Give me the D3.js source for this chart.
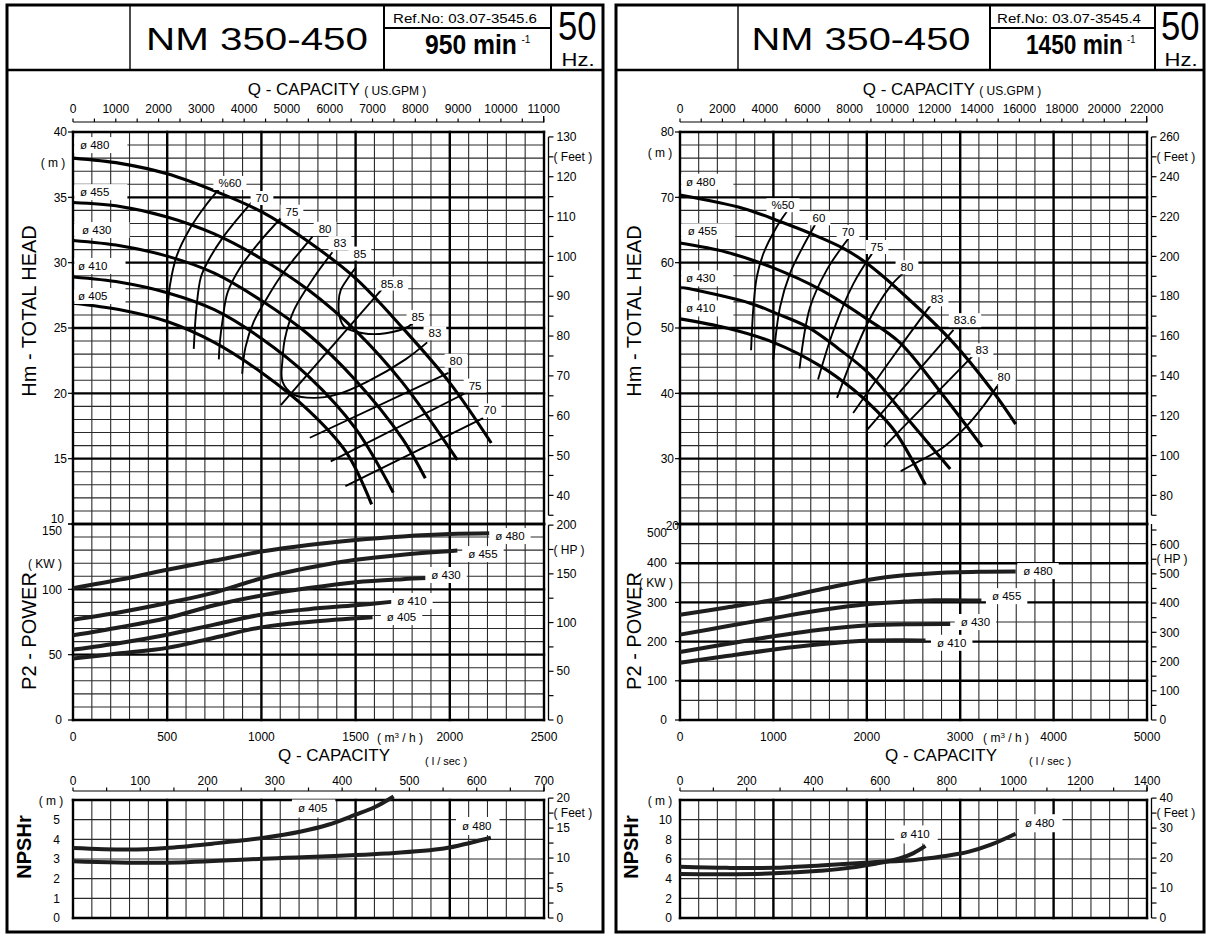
<!DOCTYPE html>
<html>
<head>
<meta charset="utf-8">
<script src="https://cdn.jsdelivr.net/npm/d3@7/dist/d3.min.js"></script>
<style>
html,body{margin:0;padding:0;background:#fff;}
svg{display:block;}
text{font-family:"Liberation Sans",Arial,Helvetica,sans-serif;fill:#000;}
</style>
</head>
<body>
<svg id="chart" width="1208" height="938"></svg>
<script>
// ================= LEFT SHEET : NM 350-450, 950 min-1 =================
const L_HEADER = ["NM 350-450", "Ref.No: 03.07-3545.6", "950 min", "-1", "50", "Hz."];
const L_GPM_TICKS = [0,1000,2000,3000,4000,5000,6000,7000,8000,9000,10000,11000];
const L_LS_TICKS = [0,100,200,300,400,500,600,700];
const L_Q_TICKS = [0,500,1000,1500,2000,2500];
const L_H_TICKS = [40,35,30,25,20,15,10];
const L_P_TICKS = [150,100,50,0];
const L_N_TICKS = [0,1,2,3,4,5];
const L_FT_TICKS = [130,120,110,100,90,80,70,60,50,40];
const L_HP_TICKS = [200,150,100,50,0];
const L_NFT_TICKS = [20,15,10,5,0];

const L_DIAMETERS = ["ø 480","ø 455","ø 430","ø 410","ø 405"];
const L_HEAD_480 = [[0,38.0],[250,37.6],[500,36.8],[750,35.5],[1000,33.9],[1250,31.6],[1500,28.8],[1750,25.0],[2000,20.8],[2220,16.2]];
const L_HEAD_455 = [[0,34.6],[250,34.3],[500,33.5],[750,32.2],[1000,30.3],[1250,27.9],[1500,24.8],[1750,20.8],[2040,14.9]];
const L_HEAD_430 = [[0,31.7],[250,31.3],[500,30.5],[750,29.2],[1000,27.1],[1250,24.5],[1500,21.0],[1750,16.5],[1870,13.5]];
const L_HEAD_410 = [[0,28.9],[250,28.5],[500,27.7],[750,26.4],[1000,24.2],[1250,21.3],[1500,17.3],[1700,12.4]];
const L_HEAD_405 = [[0,26.9],[250,26.4],[500,25.5],[750,23.9],[1000,21.6],[1250,18.7],[1450,15.5],[1585,11.5]];
const L_HEAD_LABEL_AT = [[37,39.0],[37,35.4],[48,32.5],[27,29.75],[27,27.45]];

const L_POW_480 = [[0,100.9],[250,107.5],[500,115],[750,122],[1000,128.9],[1250,134],[1500,137.8],[1750,140.5],[2000,142.3],[2220,142.9]];
const L_POW_455 = [[0,76.8],[250,82.5],[500,89.5],[750,97.5],[1000,108.4],[1250,116.5],[1500,122.6],[1750,126.5],[2040,129.7]];
const L_POW_430 = [[0,64.8],[250,71],[500,78.1],[750,87.8],[1000,95.3],[1250,101],[1500,105.5],[1750,107.8],[1880,108.6]];
const L_POW_410 = [[0,53.9],[250,59],[500,65.3],[750,73],[1000,80.6],[1250,84.8],[1500,87.8],[1700,90.6]];
const L_POW_405 = [[0,47.0],[250,51],[500,55.2],[750,63],[1000,70.9],[1250,75],[1590,78.6]];
const L_POWER_LABEL_AT = [[2319,140.8],[2176,127],[1980,111],[1799,91.1],[1744,78.8]];

const L_NPSH_DIAMETERS = ["ø 405","ø 480"];
const L_NPSH_405 = [[0,3.56],[290,3.48],[495,3.56],[740,3.78],[1006,4.07],[1211,4.4],[1354,4.74],[1497,5.24],[1600,5.63],[1702,6.18]];
const L_NPSH_480 = [[0,2.89],[495,2.81],[1047,3.03],[1661,3.28],[1968,3.53],[2111,3.83],[2218,4.08]];
const L_NPSH_LABEL_AT = [[1272,5.57],[2143,4.68]];

const L_EFF_LABELS = ["%60","70","75","80","83","85","85.8","85","83","80","75","70"];
const L_EFF_LABEL_AT = [[833,36.1],[1003,34.95],[1162,33.9],[1338,32.6],[1417,31.5],[1523,30.7],[1693,28.4],[1831,25.85],[1921,24.6],[2033,22.5],[2134,20.6],[2213,18.7]];
const L_EFF_60 = [[785,35.8],[700,34.3],[620,32.6],[550,30.5],[515,28.3],[502,26.5],[498,24.7]];
const L_EFF_70 = [[953,34.7],[870,33.3],[794,31.9],[720,30.2],[679,28.9],[655,26.5],[641,23.4]];
const L_EFF_75 = [[1103,33.4],[997,31.7],[891,29.7],[820,27.7],[794,25.6],[780,24.0],[774,22.6]];
const L_EFF_80 = [[1271,32.0],[1180,30.4],[1100,28.9],[1030,27.3],[960,25.5],[915,23.5],[898,21.5]];
const L_EFF_83 = [[1377,30.8],[1280,28.9],[1174,26.4],[1125,24.2],[1112,22.6],[1112,20.9],[1172,19.9],[1276,19.65],[1398,19.9],[1563,20.9],[1765,22.6],[1880,23.9]];
const L_EFF_85 = [[1500,29.6],[1464,28.9],[1421,27.9],[1410,27.0],[1416,25.8],[1440,25.1],[1540,24.6],[1660,24.6],[1780,25.1],[1820,25.6]];
const L_EFF_858 = [[1660,28.3],[1103,19.1]];
const L_EFF_80R = [[1257,16.6],[1993,21.56]];
const L_EFF_75R = [[1368,14.8],[2095,20.1]];
const L_EFF_70R = [[1446,12.9],[2177,18.1]];

// ================= RIGHT SHEET : NM 350-450, 1450 min-1 =================
const R_HEADER = ["NM 350-450", "Ref.No: 03.07-3545.4", "1450 min", "-1", "50", "Hz."];
const R_GPM_TICKS = [0,2000,4000,6000,8000,10000,12000,14000,16000,18000,20000,22000];
const R_LS_TICKS = [0,200,400,600,800,1000,1200,1400];
const R_Q_TICKS = [0,1000,2000,3000,4000,5000];
const R_H_TICKS = [80,70,60,50,40,30,20];
const R_P_TICKS = [500,400,300,200,100,0];
const R_N_TICKS = [0,2,4,6,8,10];
const R_FT_TICKS = [260,240,220,200,180,160,140,120,100,80];
const R_HP_TICKS = [600,500,400,300,200,100,0];
const R_NFT_TICKS = [40,30,20,10,0];

const R_DIAMETERS = ["ø 480","ø 455","ø 430","ø 410"];
const R_HEAD_480 = [[0,70.35],[678,68.3],[1071,66.3],[1393,64.5],[1750,62.2],[2000,59.9],[2450,54.4],[2922,47.8],[3329,40.7],[3594,35.3]];
const R_HEAD_455 = [[0,63.0],[500,61.6],[1000,59.2],[1500,55.9],[2000,51.4],[2351,47.8],[2800,40.0],[3236,31.8]];
const R_HEAD_430 = [[0,56.3],[750,53.8],[1036,52.2],[1373,50.1],[1700,46.8],[2025,43.0],[2473,35.5],[2893,28.4]];
const R_HEAD_410 = [[0,51.4],[500,50.0],[1000,47.8],[1500,44.2],[1862,40.5],[2100,37.4],[2300,34.2],[2628,26.0]];
const R_HEAD_LABEL_AT = [[64,72.4],[82,64.8],[64,57.6],[64,53.0]];

const R_POW_480 = [[0,268.6],[500,287],[1006,306.8],[1500,333],[2025,357.6],[2400,369],[2718,374.6],[3200,378],[3594,378.8]];
const R_POW_455 = [[0,217.8],[500,239],[1006,260.2],[1500,280],[2025,295.8],[2400,302],[2718,305.5],[3227,305]];
const R_POW_430 = [[0,173.7],[500,194],[1006,213.6],[1500,230],[2025,241.5],[2500,244.5],[2893,244.9]];
const R_POW_410 = [[0,145.8],[500,163],[1006,179.7],[1500,193],[2025,202.5],[2400,203.5],[2628,202.5]];
const R_POWER_LABEL_AT = [[3833,380],[3497,316],[3163,250],[2909,197]];

const R_NPSH_DIAMETERS = ["ø 410","ø 480"];
const R_NPSH_410 = [[0,4.47],[500,4.45],[1006,4.54],[1500,4.8],[1699,4.97],[2107,5.55],[2351,6.05],[2500,6.6],[2628,7.33]];
const R_NPSH_480 = [[0,5.21],[500,5.1],[1006,5.1],[1500,5.35],[2025,5.65],[2514,5.9],[2800,6.25],[3084,6.72],[3329,7.46],[3594,8.57]];
const R_NPSH_LABEL_AT = [[2516,8.5],[3852,9.64]];

const R_EFF_LABELS = ["%50","60","70","75","80","83","83.6","83","80"];
const R_EFF_LABEL_AT = [[1103,68.8],[1488,66.8],[1799,64.7],[2109,62.4],[2430,59.3],[2752,54.4],[3051,51.2],[3233,46.6],[3469,42.5]];
const R_EFF_50 = [[1143,67.8],[1036,65.5],[893,61.4],[822,57.8],[786,53.2],[761,46.6]];
const R_EFF_60 = [[1446,65.8],[1300,62.0],[1179,58.4],[1071,53.2],[999,45.2]];
const R_EFF_70 = [[1803,63.7],[1572,58.9],[1393,53.2],[1280,43.8]];
const R_EFF_75 = [[2071,61.7],[1857,56.8],[1640,49.5],[1478,42.1]];
const R_EFF_80 = [[2389,58.4],[2248,56.3],[2000,50.5],[1681,39.3]];
const R_EFF_83 = [[2700,53.8],[2280,45.6],[1854,37.0]];
const R_EFF_836 = [[2008,34.5],[2928,49.7]];
const R_EFF_83R = [[2184,31.8],[3132,45.7]];
const R_EFF_80R = [[2364,28.1],[2518,29.3],[2805,31.6],[3050,34.7],[3255,38.2],[3397,41.1]];

// ================= DRAWING =================
const svg = d3.select("#chart");
const FT = 3.28084, KW_HP = 1/0.7457, M3H_GPM = 4.40287;
const Y = {gpm:122, hTop:132, hBot:524, pBot:720, ls:791, nTop:800, nBot:918};

function mk(parent, tag, attrs){ const e = parent.append(tag); for (const k in attrs) e.attr(k, attrs[k]); return e; }
const isMul = (v,m) => Math.abs(v/m - Math.round(v/m)) < 1e-6;

function boxLabel(parent, px, py, txt, o){
  o = o || {};
  const lg = parent.append("g");
  const r = lg.append("rect").attr("fill","#fff");
  const t = mk(lg,"text",{x:px,y:py,"font-size":o.fs||11,"text-anchor":o.anchor||"middle",dy:"0.35em"}).text(txt);
  const b = t.node().getBBox();
  const padL = o.padL!=null?o.padL:4, padR = o.padR!=null?o.padR:4, padV = o.padV!=null?o.padV:1;
  const bx = o.boxX0!=null ? o.boxX0 : b.x - padL;
  r.attr("x",bx).attr("y",b.y-padV).attr("width",b.x+b.width+padR-bx).attr("height",b.height+2*padV);
}

function drawSheet(S){
  const g = svg.append("g");
  // ---- frame and header ----
  mk(g,"rect",{x:S.bx0,y:5,width:S.bx1-S.bx0,height:927,fill:"none",stroke:"#000","stroke-width":3});
  mk(g,"line",{x1:S.bx0,x2:S.bx1,y1:70,y2:70,stroke:"#000","stroke-width":2.6});
  S.div.forEach((d,i)=>mk(g,"line",{x1:d,x2:d,y1:5,y2:70,stroke:"#000","stroke-width":i===0?1.4:2}));
  mk(g,"line",{x1:S.div[1],x2:S.div[2],y1:28,y2:28,stroke:"#000","stroke-width":2});
  const H = S.header;
  mk(g,"text",{x:S.titleX,y:49.5,"font-family":"'DejaVu Sans',sans-serif","font-size":31,"font-weight":200,
     "text-anchor":"middle",textLength:S.titleW,lengthAdjust:"spacingAndGlyphs"}).text(H[0]);
  mk(g,"text",{x:S.refX,y:22.5,"font-size":12.5,textLength:144,lengthAdjust:"spacingAndGlyphs"}).text(H[1]);
  // speed with superscript in one condensed text element
  const sp = mk(g,"text",{x:0,y:0,"font-size":27,"font-weight":"bold"});
  const spMain = sp.append("tspan").text(H[2]);
  sp.append("tspan").attr("font-size",11).attr("font-weight","normal").attr("dx",5).attr("dy",-11).text(H[3]);
  const natural = spMain.node().getComputedTextLength();
  sp.attr("transform",`translate(${S.spdX},54.3) scale(${S.spdW/natural},1)`);
  mk(g,"text",{x:S.hzX,y:39.5,"font-size":40,textLength:38.5,lengthAdjust:"spacingAndGlyphs"}).text(H[4]);
  mk(g,"text",{x:S.hzX+3.5,y:65.8,"font-size":19,textLength:33,lengthAdjust:"spacingAndGlyphs"}).text(H[5]);

  // ---- scales ----
  const x   = d3.scaleLinear().domain([0,S.qMax]).range([S.x0,S.x1]);
  const yH  = d3.scaleLinear().domain([S.hMin,S.hMax]).range([Y.hBot,Y.hTop]);
  const yP  = d3.scaleLinear().domain([0,S.pMax]).range([Y.pBot,Y.hBot]);
  const yN  = d3.scaleLinear().domain([0,S.nMax]).range([Y.nBot,Y.nTop]);
  const xG  = d3.scaleLinear().domain([0,S.qMax*M3H_GPM]).range([S.x0,S.x1]);
  const xL  = d3.scaleLinear().domain([0,S.lsMax]).range([S.x0,S.x1]);
  const yHf = d3.scaleLinear().domain([S.hMin*FT,S.hMax*FT]).range([Y.hBot,Y.hTop]);
  const yPh = d3.scaleLinear().domain([0,S.pMax*KW_HP]).range([Y.pBot,Y.hBot]);
  const yNf = d3.scaleLinear().domain([0,S.nMax*FT]).range([Y.nBot,Y.nTop]);

  // ---- grids ----
  const gridG = g.append("g");
  const MIN_W = 1.1, MIN_C = "#2a2a2a", MAJ_W = 2.4, MAJ_C = "#000";
  function panelGrid(ys, vStep, vMajor, qStep, qMajor){
    const [yb,yt] = ys.range(); const [d0,d1] = ys.domain();
    const vs = d3.range(d0, d1+1e-6, vStep), qs = d3.range(0, S.qMax+1e-6, qStep);
    qs.filter(q=>!isMul(q,qMajor)).forEach(q=>mk(gridG,"line",{x1:x(q),x2:x(q),y1:yt,y2:yb,stroke:MIN_C,"stroke-width":MIN_W}));
    vs.filter(v=>!vMajor(v)).forEach(v=>mk(gridG,"line",{x1:S.x0,x2:S.x1,y1:ys(v),y2:ys(v),stroke:MIN_C,"stroke-width":MIN_W}));
    qs.filter(q=>isMul(q,qMajor)).forEach(q=>mk(gridG,"line",{x1:x(q),x2:x(q),y1:yt-1.2,y2:yb+1.2,stroke:MAJ_C,"stroke-width":MAJ_W}));
    vs.filter(v=>vMajor(v)).forEach(v=>mk(gridG,"line",{x1:S.x0-1.2,x2:S.x1+1.2,y1:ys(v),y2:ys(v),stroke:MAJ_C,"stroke-width":MAJ_W}));
  }
  panelGrid(yH, S.hStep, v=>isMul(v,S.hMajor), S.qStep, S.qMajor);
  panelGrid(yP, S.pStep, v=>isMul(v,S.pMajor), S.qStep, S.qMajor);
  panelGrid(yN, S.nStep, v=>v===0||Math.abs(v-S.nMax)<1e-6, S.qStep, S.qMajor);

  // ---- curves ----
  const cg = g.append("g").attr("fill","none").attr("stroke-linecap","butt");
  const lineOf = ys => d3.line().x(d=>x(d[0])).y(d=>ys(d[1])).curve(d3.curveCatmullRom.alpha(0.5));
  S.eff.forEach(c=>mk(cg,"path",{d:lineOf(yH)(c),stroke:"#000","stroke-width":1.9}));
  S.head.forEach(c=>mk(cg,"path",{d:lineOf(yH)(c),stroke:"#000","stroke-width":3.1}));
  S.pow.forEach(c=>mk(cg,"path",{d:lineOf(yP)(c),stroke:"#1e1e1e","stroke-width":4}));
  S.npsh.forEach(c=>mk(cg,"path",{d:lineOf(yN)(c),stroke:"#1e1e1e","stroke-width":4}));

  // ---- curve labels ----
  const lg = g.append("g");
  S.headLab.forEach((p,i)=>boxLabel(lg, x(p[0]), yH(p[1]), S.diam[i], {fs:11.5,anchor:"start",boxX0:S.x0+1.3,padR:18,padV:2}));
  S.effLab.forEach((p,i)=>boxLabel(lg, x(p[0]), yH(p[1]), S.effNames[i], {fs:11.5,padL:5,padR:5,padV:1}));
  S.powLab.forEach((p,i)=>boxLabel(lg, x(p[0]), yP(p[1]), S.diam[i], {fs:11.5,padL:6,padR:6,padV:2}));
  S.npshLab.forEach((p,i)=>boxLabel(lg, x(p[0]), yN(p[1]), S.npshNames[i], {fs:11.5,padL:6,padR:8,padV:3}));

  // ---- axes ----
  const ax = g.append("g").attr("stroke","#000");
  const tx = g.append("g").attr("font-size",12);
  // top GPM axis
  const gpmMax = S.gpmTicks[S.gpmTicks.length-1];
  mk(ax,"line",{x1:S.x0,x2:xG(gpmMax),y1:Y.gpm,y2:Y.gpm,"stroke-width":1.2});
  d3.range(0,gpmMax+1e-6,S.gpmMinor).forEach(v=>mk(ax,"line",{x1:xG(v),x2:xG(v),y1:Y.gpm,y2:Y.gpm-3.5,"stroke-width":1.2}));
  mk(ax,"line",{x1:xG(gpmMax),x2:xG(gpmMax),y1:Y.gpm+0.6,y2:Y.gpm-6,"stroke-width":1.4});
  S.gpmTicks.forEach(v=>mk(tx,"text",{x:xG(v),y:Y.gpm-13,dy:"0.35em","text-anchor":"middle"}).text(v));
  const t1 = mk(tx,"text",{x:S.capTopX,y:89,dy:"0.35em","text-anchor":"middle","font-size":17});
  t1.append("tspan").text("Q - CAPACITY ");
  t1.append("tspan").attr("font-size",12).text("( US.GPM )");

  // l/sec axis
  mk(ax,"line",{x1:S.x0,x2:S.x1,y1:Y.ls,y2:Y.ls,"stroke-width":1.2});
  d3.range(0,S.lsMax+1e-6,S.lsMinor).forEach(v=>mk(ax,"line",{x1:xL(v),x2:xL(v),y1:Y.ls,y2:Y.ls-3.5,"stroke-width":1.2}));
  mk(ax,"line",{x1:S.x1,x2:S.x1,y1:Y.ls+0.6,y2:Y.ls-6,"stroke-width":1.4});
  S.lsTicks.forEach(v=>mk(tx,"text",{x:xL(v),y:Y.ls-10,dy:"0.35em","text-anchor":"middle"}).text(v));
  mk(tx,"text",{x:S.lsUnitX,y:761,dy:"0.35em","text-anchor":"middle","font-size":11}).text("( l / sec )");
  mk(tx,"text",{x:S.capBotX,y:755,dy:"0.35em","text-anchor":"middle","font-size":17}).text("Q - CAPACITY");

  // bottom m3/h labels
  S.qTicks.forEach(v=>mk(tx,"text",{x:x(v),y:737,dy:"0.35em","text-anchor":"middle"}).text(v));
  const mu = mk(tx,"text",{x:S.m3hX,y:738,dy:"0.35em","text-anchor":"middle","font-size":12});
  mu.append("tspan").text("( m");
  mu.append("tspan").attr("font-size",8).attr("dy","-4").text("3");
  mu.append("tspan").attr("dy","4").text(" / h )");

  // left axes
  S.hTicks.forEach(v=>{
    mk(ax,"line",{x1:S.x0-5,x2:S.x0,y1:yH(v),y2:yH(v),"stroke-width":1.2});
    const last = v===S.hMin;
    mk(tx,"text",{x:last?S.x0-S.hBotDx:S.x0-6,y:yH(v)+(last?S.hBotDy:0),dy:"0.35em","text-anchor":"end"}).text(v);
  });
  S.pTicks.forEach(v=>{
    mk(ax,"line",{x1:S.x0-5,x2:S.x0,y1:yP(v),y2:yP(v),"stroke-width":1.2});
    const top = v===S.pMax;
    mk(tx,"text",{x:S.x0-S.pDx,y:yP(v)+(top?S.pTopDy:0),dy:"0.35em","text-anchor":"end"}).text(v);
  });
  S.nTicks.forEach(v=>mk(tx,"text",{x:S.x0-S.nDx,y:yN(v),dy:"0.35em","text-anchor":"end"}).text(v));

  // right axes
  const xr = S.x1+4.5;
  function rightAxis(ys, lo, hi, step, labels, unit, unitAt){
    mk(ax,"line",{x1:xr,x2:xr,y1:ys(lo),y2:ys(hi),"stroke-width":1.3});
    d3.range(lo,hi+1e-6,step).forEach(v=>mk(ax,"line",{x1:xr,x2:xr+5,y1:ys(v),y2:ys(v),"stroke-width":1.2}));
    labels.forEach(v=>mk(tx,"text",{x:xr+8,y:ys(v),dy:"0.35em"}).text(v));
    mk(tx,"text",{x:xr+5,y:ys(unitAt),dy:"0.35em"}).text(unit);
  }
  rightAxis(yHf, S.ftLo, S.ftHi, S.ftStep, S.ftTicks, "( Feet )", S.ftUnit);
  rightAxis(yPh, 0, S.hpHi, S.hpStep, S.hpTicks, "( HP )", S.hpUnit);
  if (S.hpLineTop) mk(ax,"line",{x1:xr,x2:xr,y1:yPh(S.hpHi),y2:Y.hBot,"stroke-width":1.3});
  rightAxis(yNf, 0, S.nftHi, S.nftStep, S.nftTicks, "( Feet )", S.nftUnit);

  // units & titles
  mk(tx,"text",{x:S.mX,y:S.mY,dy:"0.35em","text-anchor":"middle"}).text("( m )");
  mk(tx,"text",{x:S.kwX,y:S.kwY,dy:"0.35em","text-anchor":"middle"}).text("( KW )");
  mk(tx,"text",{x:S.nmX,y:801,dy:"0.35em","text-anchor":"middle"}).text("( m )");
  const rot = (xx,yy,txt,fs,fw)=>mk(tx,"text",{transform:`translate(${xx},${yy}) rotate(-90)`,dy:"0.35em","text-anchor":"middle","font-size":fs,"font-weight":fw||"normal"}).text(txt);
  rot(S.ttlX,311,"Hm - TOTAL HEAD",20);
  rot(S.ttlX,631,"P2 - POWER",20);
  rot(S.npX,847,"NPSHr",20,"bold");
}

drawSheet({
  header:L_HEADER, bx0:7, bx1:603, div:[130,384,551], titleX:257, titleW:222, refX:393, spdX:425, spdW:92, hzX:558,
  x0:73, x1:544, qMax:2500, qStep:100, qMajor:500,
  hMin:10, hMax:40, hStep:1, hMajor:5, pMax:150, pStep:10, pMajor:50, nMax:6, nStep:1,
  lsMax:700, lsMinor:50, gpmMinor:500,
  gpmTicks:L_GPM_TICKS, lsTicks:L_LS_TICKS, qTicks:L_Q_TICKS, hTicks:L_H_TICKS, pTicks:L_P_TICKS, nTicks:L_N_TICKS,
  ftLo:35, ftHi:130, ftStep:5, ftTicks:L_FT_TICKS, ftUnit:125,
  hpHi:200, hpStep:25, hpTicks:L_HP_TICKS, hpUnit:175, hpLineTop:false,
  nftHi:20, nftStep:2.5, nftTicks:L_NFT_TICKS, nftUnit:17.5,
  head:[L_HEAD_480,L_HEAD_455,L_HEAD_430,L_HEAD_410,L_HEAD_405],
  pow:[L_POW_480,L_POW_455,L_POW_430,L_POW_410,L_POW_405],
  npsh:[L_NPSH_405,L_NPSH_480],
  eff:[L_EFF_60,L_EFF_70,L_EFF_75,L_EFF_80,L_EFF_83,L_EFF_85,L_EFF_858,L_EFF_80R,L_EFF_75R,L_EFF_70R],
  diam:L_DIAMETERS, headLab:L_HEAD_LABEL_AT, powLab:L_POWER_LABEL_AT,
  effNames:L_EFF_LABELS, effLab:L_EFF_LABEL_AT, npshNames:L_NPSH_DIAMETERS, npshLab:L_NPSH_LABEL_AT,
  capTopX:337, capBotX:334, lsUnitX:446, m3hX:400,
  hBotDx:9, hBotDy:-5, pDx:11, pTopDy:7, nDx:13,
  mX:53, mY:163, kwX:45, kwY:564, nmX:51, ttlX:29, npX:24
});

drawSheet({
  header:R_HEADER, bx0:616, bx1:1204, div:[738,990,1155], titleX:861, titleW:219, refX:997, spdX:1026, spdW:97, hzX:1161,
  x0:680, x1:1147, qMax:5000, qStep:200, qMajor:1000,
  hMin:20, hMax:80, hStep:2, hMajor:10, pMax:500, pStep:50, pMajor:100, nMax:12, nStep:2,
  lsMax:1400, lsMinor:100, gpmMinor:1000,
  gpmTicks:R_GPM_TICKS, lsTicks:R_LS_TICKS, qTicks:R_Q_TICKS, hTicks:R_H_TICKS, pTicks:R_P_TICKS, nTicks:R_N_TICKS,
  ftLo:70, ftHi:260, ftStep:10, ftTicks:R_FT_TICKS, ftUnit:250,
  hpHi:650, hpStep:50, hpTicks:R_HP_TICKS, hpUnit:550, hpLineTop:true,
  nftHi:40, nftStep:5, nftTicks:R_NFT_TICKS, nftUnit:35,
  head:[R_HEAD_480,R_HEAD_455,R_HEAD_430,R_HEAD_410],
  pow:[R_POW_480,R_POW_455,R_POW_430,R_POW_410],
  npsh:[R_NPSH_410,R_NPSH_480],
  eff:[R_EFF_50,R_EFF_60,R_EFF_70,R_EFF_75,R_EFF_80,R_EFF_83,R_EFF_836,R_EFF_83R,R_EFF_80R],
  diam:R_DIAMETERS, headLab:R_HEAD_LABEL_AT, powLab:R_POWER_LABEL_AT,
  effNames:R_EFF_LABELS, effLab:R_EFF_LABEL_AT, npshNames:R_NPSH_DIAMETERS, npshLab:R_NPSH_LABEL_AT,
  capTopX:952, capBotX:941, lsUnitX:1050, m3hX:1006,
  hBotDx:1, hBotDy:2, pDx:13, pTopDy:9, nDx:8,
  mX:660, mY:153, kwX:656, kwY:583, nmX:660, ttlX:634, npX:631
});
</script>
</body>
</html>
